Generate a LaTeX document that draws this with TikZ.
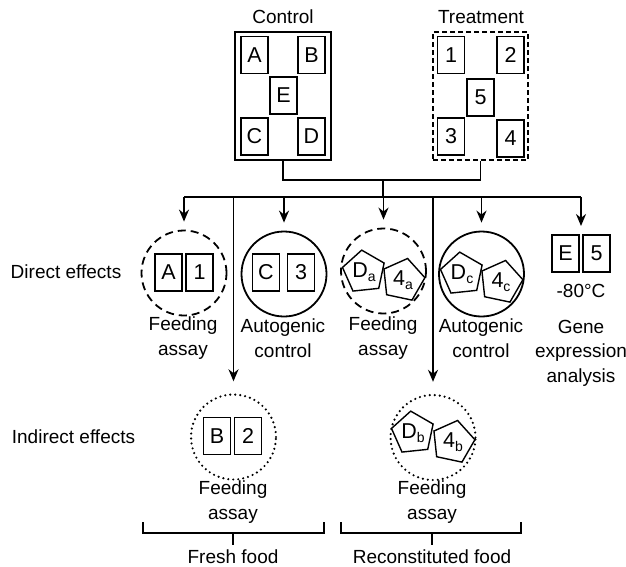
\documentclass[tikz,border=0pt]{standalone}
\usepackage{fontspec}
\setmainfont{Liberation Sans}
\usetikzlibrary{shapes.geometric,arrows.meta}
\newcommand\subt[1]{\raisebox{-4.5pt}{\fontsize{14}{14}\selectfont #1}}
\begin{document}
\begin{tikzpicture}[x=1pt,y=-1pt,
  lbl/.style={font=\fontsize{19}{24.5}\selectfont, align=center, inner sep=0},
  sbox/.style={draw, line width=1.4pt, minimum width=27pt, minimum height=37pt, inner sep=0, font=\fontsize{21.5}{21.5}\selectfont},
  penta/.style={draw, line width=1.4pt, regular polygon, regular polygon sides=5, minimum size=44pt, inner sep=0, font=\fontsize{21.5}{21.5}\selectfont},
  bigbox/.style={draw, line width=1.8pt, minimum width=96pt, minimum height=128pt, inner sep=0},
  ring/.style={circle, draw, line width=1.8pt, minimum size=85pt, inner sep=0},
  dashring/.style={ring, dash pattern=on 8pt off 5pt},
  dotring/.style={ring, line width=2.4pt, line cap=round, dash pattern=on 0pt off 5pt},
  conn/.style={line width=1.7pt},
  arr/.style={conn, -{Stealth[length=12pt,width=10pt]}},
]
\useasboundingbox (0,0) rectangle (626,566);

% top groups
\node[lbl] (lctrl) at (283,17) {Control};
\node[lbl] (ltreat) at (481,17) {Treatment};
\node[bigbox] (ctrl) at (283,96) {};
\node[bigbox, minimum width=95pt, line width=1.6pt, dash pattern=on 5pt off 3pt] (treat) at (480.5,96) {};
\node[sbox] (cA) at (254.5,55) {A};
\node[sbox] (cB) at (311.5,55) {B};
\node[sbox] (cE) at (283.5,95.5) {E};
\node[sbox] (cC) at (254.5,136.5) {C};
\node[sbox] (cD) at (311.5,136.5) {D};
\node[sbox] (t1) at (451,55) {1};
\node[sbox] (t2) at (510.5,55) {2};
\node[sbox] (t5) at (480.5,97.5) {5};
\node[sbox] (t3) at (451,136.5) {3};
\node[sbox] (t4) at (510.5,138.5) {4};

% row labels
\node[lbl] (ldir) at (66,272) {Direct effects};
\node[lbl] (lind) at (73.5,437) {Indirect effects};

% direct effect rings
\node[dashring] (fa1) at (184,273) {};
\node[sbox] (rA) at (168.5,272.5) {A};
\node[sbox] (r1) at (199.5,272.5) {1};
\node[lbl] (lfa1) at (183,338) {Feeding\\assay};

\node[ring] (ac1) at (284,274) {};
\node[sbox] (rC) at (266,272.5) {C};
\node[sbox] (r3) at (301,272.5) {3};
\node[lbl] (lac1) at (283,338) {Autogenic\\control};

\node[dashring] (fa2) at (383.5,271) {};
\node[penta, shape border rotate=6] (pDa) at (364,272) {D\subt{a}};
\node[penta, shape border rotate=-12] (p4a) at (403,280) {4\subt{a}};
\node[lbl] (lfa2) at (383,338) {Feeding\\assay};

\node[ring] (ac2) at (481.5,274) {};
\node[penta, shape border rotate=6] (pDc) at (462,274) {D\subt{c}};
\node[penta, shape border rotate=-12] (p4c) at (501,282) {4\subt{c}};
\node[lbl] (lac2) at (481,338) {Autogenic\\control};

\node[sbox] (gE) at (565.5,253.5) {E};
\node[sbox] (g5) at (596.5,253.5) {5};
\node[lbl] (lminus) at (581,291) {-80°C};
\node[lbl] (lgene) at (581,353) {Gene\\expression\\analysis};

% indirect rings
\node[dotring] (in1) at (233.5,437) {};
\node[sbox] (rB) at (217,436) {B};
\node[sbox] (r2) at (248,436) {2};
\node[lbl] (lin1) at (233,502) {Feeding\\assay};

\node[dotring] (in2) at (433,437.5) {};
\node[penta, shape border rotate=6] (pDb) at (413,433) {D\subt{b}};
\node[penta, shape border rotate=-12] (p4b) at (453,442) {4\subt{b}};
\node[lbl] (lin2) at (432,502) {Feeding\\assay};

% connectors
\coordinate (jn) at (383,180);
\coordinate (hub) at (383,197);
\coordinate (busL) at (184,197);
\coordinate (busR) at (581,197);
\coordinate (gtop) at (581,235);
\draw[conn] (ctrl.south) |- (jn) -| (treat.south);
\draw[conn] (jn) -- (hub);
\draw[conn] (busL) -- (busR);
\draw[arr, shorten >=8pt] (fa1 |- hub) -- (fa1);
\draw[arr, shorten >=8pt] (ac1 |- hub) -- (ac1);
\draw[arr, shorten >=8pt] (fa2 |- hub) -- (fa2);
\draw[arr, shorten >=8pt] (ac2 |- hub) -- (ac2);
\draw[arr, shorten >=9pt] (busR) -- (gtop);
\draw[arr, shorten >=12pt] (in1 |- hub) -- (in1);
\draw[arr, shorten >=12pt] (in2 |- hub) -- (in2);

% bottom brackets
\coordinate (b1l) at (143,522);
\coordinate (b1r) at (324,522);
\coordinate (b2l) at (341,522);
\coordinate (b2r) at (521,522);
\node[lbl, anchor=base] (lfresh) at (233,563) {Fresh food};
\node[lbl, anchor=base] (lrecon) at (432,563) {Reconstituted food};
\draw[conn] (b1l) -- ++(0,11) -- ([yshift=-11pt]b1r) -- (b1r);
\draw[conn] (lfresh |- b1l) ++(0,11) -- ++(0,12);
\draw[conn] (b2l) -- ++(0,11) -- ([yshift=-11pt]b2r) -- (b2r);
\draw[conn] (lrecon |- b2l) ++(0,11) -- ++(0,12);
\end{tikzpicture}
\end{document}
